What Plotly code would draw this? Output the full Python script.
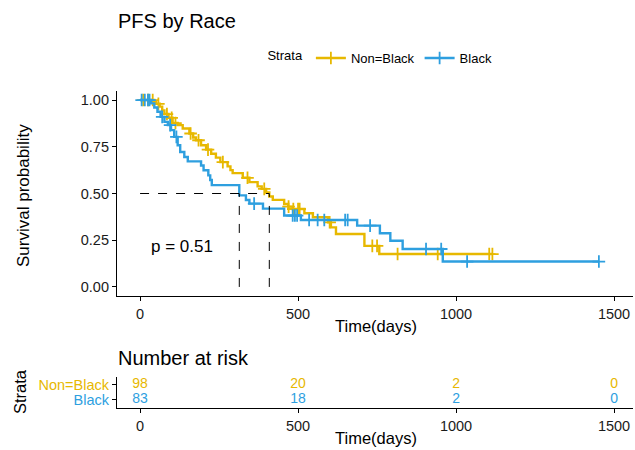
import numpy as np
import plotly.graph_objects as go

# ---------------- data ----------------
groups = ["Non=Black", "Black"]
colors = ["#E7B800", "#2E9FDF"]

# Kaplan-Meier step points (event times, survival after event)
nb_times = [45, 51, 62, 70, 77, 90, 103, 119, 135, 156, 168, 177, 193, 209, 225, 240, 254, 277, 286, 293,
            325, 346, 372, 385, 399, 409, 420, 456, 469, 483, 520, 547, 595, 604, 620, 710, 757]
nb_surv = [0.99, 0.98, 0.965, 0.945, 0.925, 0.905, 0.877, 0.866, 0.848, 0.821, 0.80, 0.785, 0.758, 0.735,
           0.713, 0.692, 0.668, 0.645, 0.625, 0.609, 0.584, 0.561, 0.538, 0.525, 0.505, 0.484, 0.466, 0.444,
           0.43, 0.417, 0.394, 0.373, 0.346, 0.319, 0.283, 0.22, 0.176]
nb_cens = [10, 25, 40, 58, 85, 100, 112, 160, 185, 215, 262, 340, 393, 470, 485, 500, 505, 600, 735, 750,
           815, 942, 1105, 1115]

b_times = [35, 45, 55, 65, 77, 88, 98, 108, 119, 127, 140, 151, 193, 201, 216, 222, 227, 314, 335, 346,
           389, 456, 509, 687, 759, 792, 831, 958]
b_surv = [0.982, 0.96, 0.937, 0.91, 0.883, 0.866, 0.839, 0.803, 0.758, 0.722, 0.695, 0.672, 0.65, 0.624,
          0.597, 0.572, 0.545, 0.49, 0.465, 0.446, 0.419, 0.382, 0.358, 0.328, 0.287, 0.247, 0.203, 0.136]
b_cens = [5, 15, 25, 30, 70, 95, 115, 361, 483, 490, 497, 535, 562, 583, 649, 657, 728, 905, 953, 1035, 1452]

pval_text = "p = 0.51"

risk_times = [0, 500, 1000, 1500]
risk_nonblack = [98, 20, 2, 0]
risk_black = [83, 18, 2, 0]

x_ticks = [0, 500, 1000, 1500]
y_ticks = [0, 0.25, 0.5, 0.75, 1.0]
y_ticklabels = ["0.00", "0.25", "0.50", "0.75", "1.00"]

# ---------------- figure ----------------
FONT = "Liberation Sans, Arial, sans-serif"
W, H = 635, 450
XR = [-73, 1560]

fig = go.Figure()

series = [(nb_times, nb_surv, nb_cens), (b_times, b_surv, b_cens)]
medians = []
for (t, s, c), name, col in zip(series, groups, colors):
    t = np.array(t, float); s = np.array(s, float); c = np.array(c, float)
    end = max(c.max(), t.max())
    xs = np.concatenate([[0], t, [end]])
    ys = np.concatenate([[1.0], s, [s[-1]]])
    fig.add_trace(go.Scatter(x=xs, y=ys, mode="lines", line=dict(color=col, width=2.4, shape="hv"),
                             showlegend=False, legendgroup=name, hoverinfo="skip", xaxis="x", yaxis="y"))
    idx = np.searchsorted(t, c, side="right")
    cy = np.concatenate([[1.0], s])[idx]
    fig.add_trace(go.Scatter(x=c, y=cy, mode="markers",
                             marker=dict(symbol="cross-thin", size=9, line=dict(color=col, width=1.8)),
                             showlegend=False, legendgroup=name, xaxis="x", yaxis="y"))
    fig.add_trace(go.Scatter(x=[None], y=[None], mode="lines+markers", name=name, legendgroup=name,
                             line=dict(color=col, width=2.4),
                             marker=dict(symbol="cross-thin", size=9, line=dict(color=col, width=1.8)),
                             xaxis="x", yaxis="y"))
    med = t[np.argmax(s <= 0.5)]
    medians.append(med)

# median dashed lines
shapes = []
shapes.append(dict(type="line", xref="x", yref="y", x0=0, x1=max(medians), y0=0.5, y1=0.5,
                   line=dict(color="black", width=1, dash="dash")))
for m in medians:
    shapes.append(dict(type="line", xref="x", yref="y", x0=m, x1=m, y0=0, y1=0.5,
                       line=dict(color="black", width=1, dash="dash")))

# risk table text
for vals, col, row in [(risk_nonblack, colors[0], 1), (risk_black, colors[1], 0)]:
    fig.add_trace(go.Scatter(x=risk_times, y=[row] * len(risk_times), mode="text",
                             text=[str(v) for v in vals], textfont=dict(color=col, size=14, family=FONT),
                             showlegend=False, xaxis="x2", yaxis="y2", hoverinfo="skip"))

def py(px):
    return 1 - px / H

axis_common = dict(showline=True, linecolor="black", linewidth=1.2, ticks="outside", ticklen=4,
                   tickcolor="black", showgrid=False, zeroline=False,
                   tickfont=dict(size=14.5, color="#1a1a1a", family=FONT))

fig.update_layout(
    width=W, height=H, margin=dict(l=0, r=0, t=0, b=0),
    plot_bgcolor="white", paper_bgcolor="white",
    font=dict(family=FONT, color="black"),
    xaxis=dict(domain=[117 / W, 633 / W], range=XR, tickvals=x_ticks, anchor="y", **axis_common),
    yaxis=dict(domain=[py(296.3), py(90.7)], range=[-0.05, 1.05], tickvals=y_ticks,
               ticktext=y_ticklabels, anchor="x", **axis_common),
    xaxis2=dict(domain=[117 / W, 633 / W], range=XR, tickvals=x_ticks, anchor="y2", **axis_common),
    yaxis2=dict(domain=[py(408), py(377)], range=[-0.55, 1.5], tickvals=[0, 1],
                ticktext=['<span style="color:#2E9FDF">Black</span>',
                          '<span style="color:#E7B800">Non=Black</span>'],
                anchor="x2", **axis_common),
    shapes=shapes,
    legend=dict(orientation="h", x=0.418, xanchor="left", y=py(58), yanchor="middle",
                title=dict(text="Strata", font=dict(size=13, family=FONT)),
                font=dict(size=13, family=FONT), bgcolor="rgba(0,0,0,0)"),
    showlegend=True,
)

annos = [
    dict(text="PFS by Race", x=116 / W, y=py(21), xanchor="left", yanchor="middle", font=dict(size=20)),
    dict(text="Survival probability", x=24 / W, y=py(196), textangle=-90, xanchor="center",
         yanchor="middle", font=dict(size=17)),
    dict(text="Time(days)", x=376 / W, y=py(326), xanchor="center", yanchor="middle", font=dict(size=16.5)),
    dict(text="Number at risk", x=116 / W, y=py(358), xanchor="left", yanchor="middle", font=dict(size=20)),
    dict(text="Strata", x=20 / W, y=py(392), textangle=-90, xanchor="center", yanchor="middle",
         font=dict(size=16.5)),
    dict(text="Time(days)", x=376 / W, y=py(438), xanchor="center", yanchor="middle", font=dict(size=16.5)),
]
for a in annos:
    a.update(xref="paper", yref="paper", showarrow=False)
    a["font"].update(family=FONT, color="black")
fig.update_layout(annotations=annos)
fig.add_annotation(text=pval_text, x=28, y=0.215, xref="x", yref="y", xanchor="left", yanchor="middle",
                   showarrow=False, font=dict(size=17, family=FONT, color="black"))

fig.write_html("out.html")
